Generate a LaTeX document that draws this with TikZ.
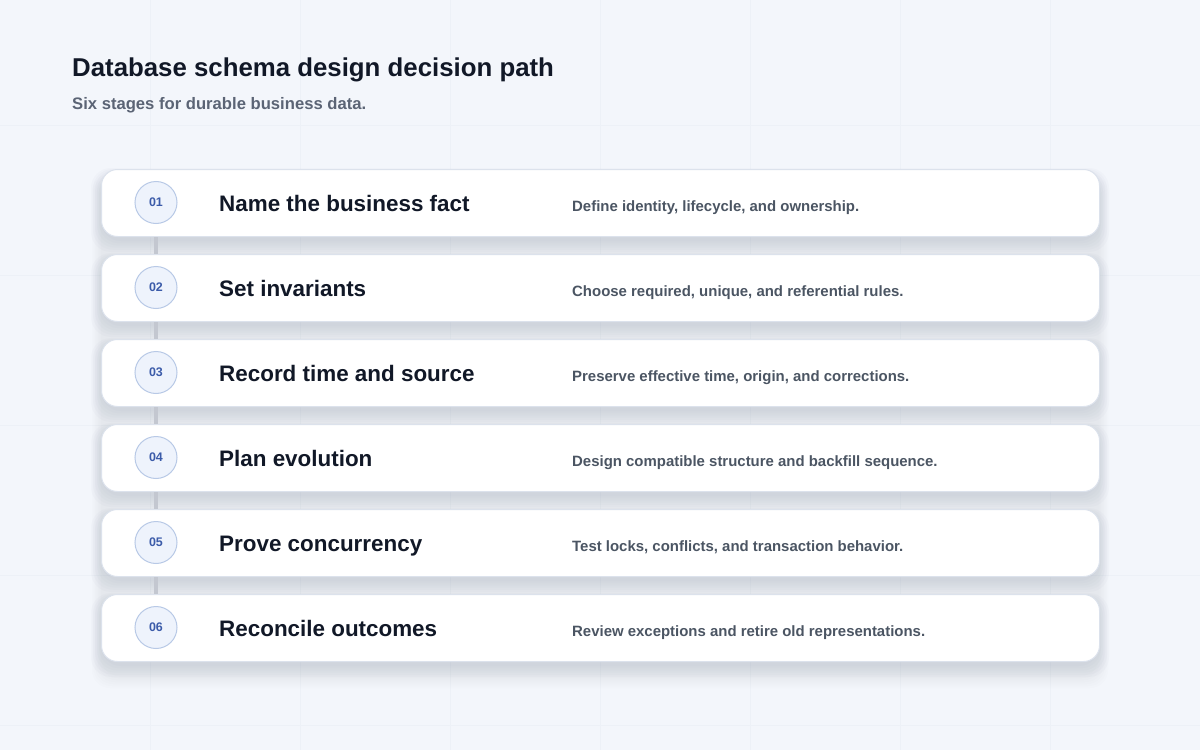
\documentclass[tikz,border=0pt]{standalone}
\usepackage{fontspec}
\setmainfont{Liberation Sans}
\definecolor{bgc}{HTML}{F3F6FB}
\definecolor{gridc}{HTML}{EDF1F7}
\definecolor{cardborder}{HTML}{DCE2EC}
\definecolor{circfill}{HTML}{EEF3FC}
\definecolor{circborder}{HTML}{B8C9E6}
\definecolor{numc}{HTML}{3B5BA9}
\definecolor{titlec}{HTML}{111827}
\definecolor{subc}{HTML}{5B6475}
\definecolor{descc}{HTML}{4B5563}
\definecolor{connc}{HTML}{C3C7D0}
\definecolor{shadc}{HTML}{7A86A3}
\tikzset{
  card/.style={draw=cardborder, line width=1bp, fill=white, rounded corners=16bp,
    minimum width=998bp, minimum height=67bp, inner sep=0pt, anchor=north west},
  numcirc/.style={circle, draw=circborder, line width=1bp, fill=circfill,
    minimum size=42bp, inner sep=0pt, text=numc, font=\bfseries\fontsize{12.5}{14}\selectfont},
  steptitle/.style={anchor=base west, inner sep=0pt, text=titlec, font=\bfseries\fontsize{22.5}{26}\selectfont},
  stepdesc/.style={anchor=base west, inner sep=0pt, text=descc, font=\bfseries\fontsize{15}{18}\selectfont},
  conn/.style={draw=connc, line width=4bp},
  shadowlayer/.style={fill=shadc, fill opacity=0.032, rounded corners=20bp}
}
\begin{document}
\begin{tikzpicture}[x=1bp,y=-1bp]
\useasboundingbox (0,0) rectangle (1200,750);
\fill[bgc] (0,0) rectangle (1200,750);
\foreach \x in {150,300,...,1050} \draw[gridc, line width=1bp] (\x,0) -- (\x,750);
\foreach \y in {125,275,...,725} \draw[gridc, line width=1bp] (0,\y) -- (1200,\y);
% group shadow
\foreach \k in {0,...,6} {
  \fill[shadc, fill opacity=0.016, rounded corners=18bp] (101-\k*1.5, 180-\k) rectangle (1099+\k*1.5, 676+\k*2);
}
% card shadows
\foreach \i in {1,...,6} {
  \pgfmathsetmacro{\ty}{169+85*(\i-1)}
  \foreach \k in {0,...,5} {
    \fill[shadowlayer] (101-\k*2, \ty+4-\k) rectangle (1099+\k*2, \ty+67+5+\k*2.2);
  }
}
\node[anchor=base west, inner sep=0pt, text=titlec, font=\bfseries\fontsize{25.9}{30}\selectfont] (title) at (72,77) {Database schema design decision path};
\node[anchor=base west, inner sep=0pt, text=subc, font=\bfseries\fontsize{16.7}{20}\selectfont] (subtitle) at (72,110) {Six stages for durable business data.};
\foreach \i/\t/\d in {
  1/{Name the business fact}/{Define identity, lifecycle, and ownership.},
  2/{Set invariants}/{Choose required, unique, and referential rules.},
  3/{Record time and source}/{Preserve effective time, origin, and corrections.},
  4/{Plan evolution}/{Design compatible structure and backfill sequence.},
  5/{Prove concurrency}/{Test locks, conflicts, and transaction behavior.},
  6/{Reconcile outcomes}/{Review exceptions and retire old representations.}} {
  \pgfmathsetmacro{\ty}{169+85*(\i-1)}
  \node[card] (card\i) at (101,\ty) {};
  \node[numcirc] (num\i) at (156,\ty+33.5) {0\i};
  \node[steptitle] (st\i) at (219,\ty+42.5) {\t};
  \node[stepdesc] (sd\i) at (572,\ty+42.5) {\d};
}
\foreach \i in {1,...,5} {
  \pgfmathtruncatemacro{\j}{\i+1}
  \draw[conn] (card\i.south -| num\i) -- (card\j.north -| num\i);
}
\end{tikzpicture}
\end{document}
